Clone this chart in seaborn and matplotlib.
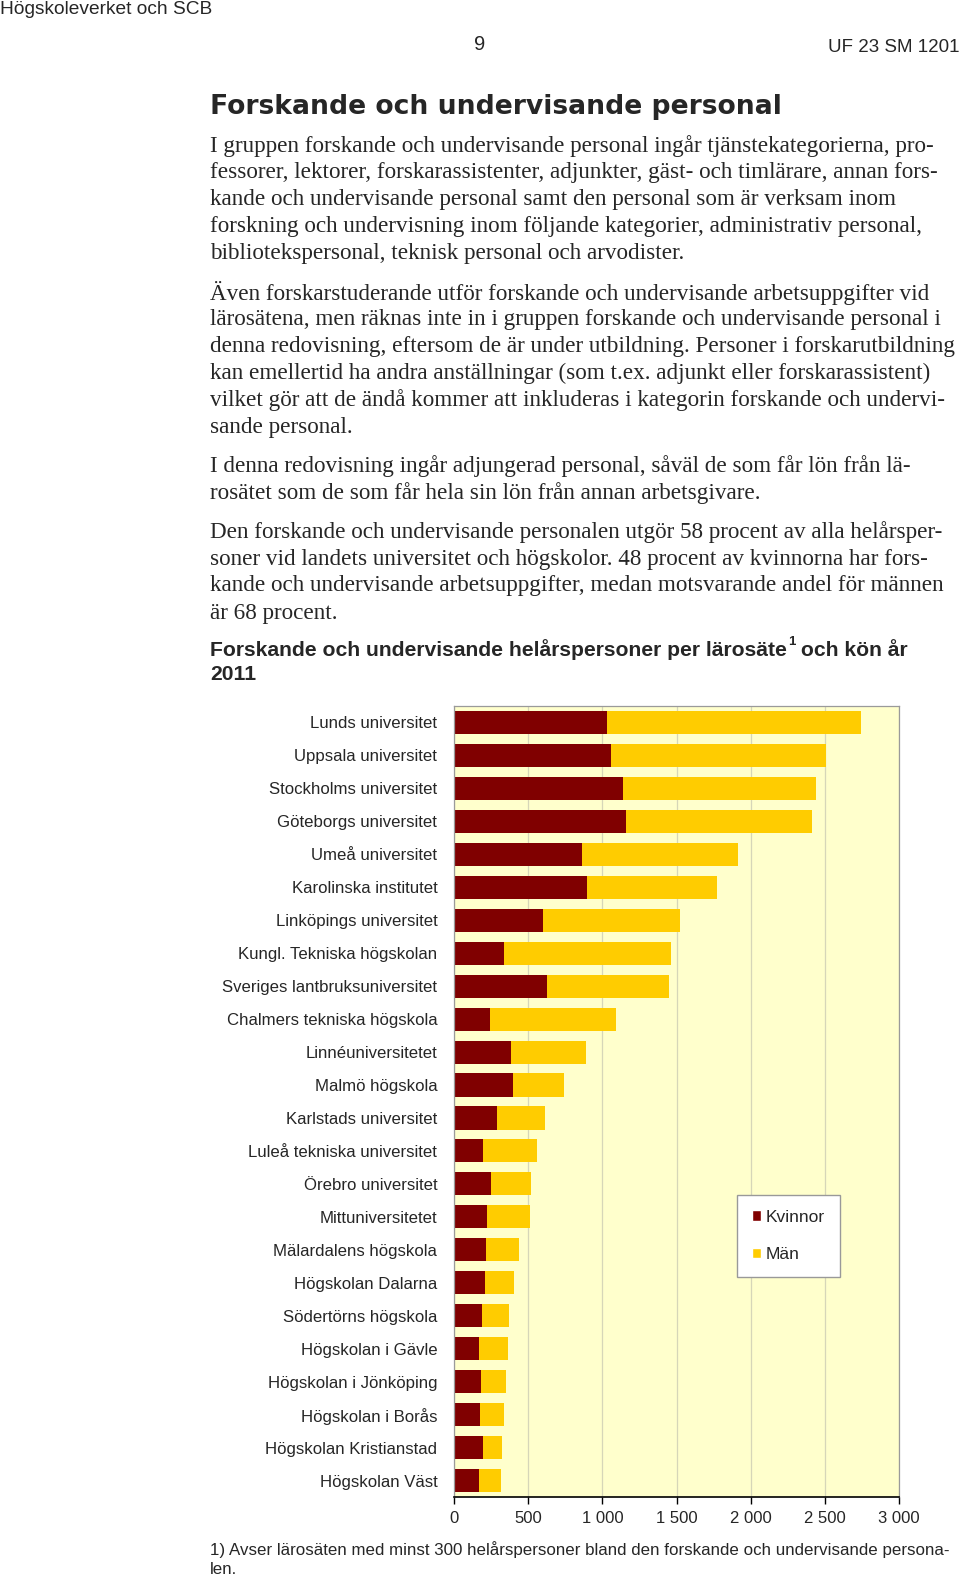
import numpy as np
import pandas as pd
import matplotlib
matplotlib.use("Agg")
import matplotlib.pyplot as plt
from matplotlib.patches import Patch
import seaborn as sns

# Data (helårspersoner 2011)
larosaten = [
    'Lunds universitet', 'Uppsala universitet', 'Stockholms universitet',
    'Göteborgs universitet', 'Umeå universitet', 'Karolinska institutet',
    'Linköpings universitet', 'Kungl. Tekniska högskolan',
    'Sveriges lantbruksuniversitet', 'Chalmers tekniska högskola',
    'Linnéuniversitetet', 'Malmö högskola', 'Karlstads universitet',
    'Luleå tekniska universitet', 'Örebro universitet', 'Mittuniversitetet',
    'Mälardalens högskola', 'Högskolan Dalarna', 'Södertörns högskola',
    'Högskolan i Gävle', 'Högskolan i Jönköping', 'Högskolan i Borås',
    'Högskolan Kristianstad', 'Högskolan Väst',
]
kvinnor = [1029, 1058, 1142, 1162, 861, 899, 598, 339, 627, 240, 384, 400,
           292, 198, 247, 225, 216, 211, 187, 171, 182, 175, 193, 169]
man = [1713, 1448, 1301, 1249, 1051, 876, 928, 1124, 820, 850, 504, 339,
       321, 359, 274, 287, 222, 196, 184, 191, 171, 164, 128, 146]
xticks = [0, 500, 1000, 1500, 2000, 2500, 3000]
xtick_labels = ['0', '500', '1 000', '1 500', '2 000', '2 500', '3 000']

header_left = 'Högskoleverket och SCB'
page_no = '9'
header_right = 'UF 23 SM 1201'
rubrik = 'Forskande och undervisande personal'

stycken = [
    [
        'I gruppen forskande och undervisande personal ingår tjänstekategorierna, pro-',
        'fessorer, lektorer, forskarassistenter, adjunkter, gäst- och timlärare, annan fors-',
        'kande och undervisande personal samt den personal som är verksam inom',
        'forskning och undervisning inom följande kategorier, administrativ personal,',
        'bibliotekspersonal, teknisk personal och arvodister.',
    ],
    [
        'Även forskarstuderande utför forskande och undervisande arbetsuppgifter vid',
        'lärosätena, men räknas inte in i gruppen forskande och undervisande personal i',
        'denna redovisning, eftersom de är under utbildning. Personer i forskarutbildning',
        'kan emellertid ha andra anställningar (som t.ex. adjunkt eller forskarassistent)',
        'vilket gör att de ändå kommer att inkluderas i kategorin forskande och undervi-',
        'sande personal.',
    ],
    [
        'I denna redovisning ingår adjungerad personal, såväl de som får lön från lä-',
        'rosätet som de som får hela sin lön från annan arbetsgivare.',
    ],
    [
        'Den forskande och undervisande personalen utgör 58 procent av alla helårsper-',
        'soner vid landets universitet och högskolor. 48 procent av kvinnorna har fors-',
        'kande och undervisande arbetsuppgifter, medan motsvarande andel för männen',
        'är 68 procent.',
    ],
]
stycke_y = [
    [146.0, 172.5, 199.5, 226.5, 253.0],
    [293.0, 319.5, 346.5, 373.5, 400.0, 427.0],
    [466.0, 493.0],
    [532.5, 559.0, 586.0, 613.0],
]

diagram_titel = 'Forskande och undervisande helårspersoner per lärosäte'
diagram_titel_slut = ' och kön år'
diagram_titel_rad2 = '2011'
fotnot = [
    '1) Avser lärosäten med minst 300 helårspersoner bland den forskande och undervisande persona-',
    'len.',
]

KVINNOR_FARG = '#800000'
MAN_FARG = '#FFCC00'

sns.set_style('white')
plt.rcParams['font.family'] = ['Liberation Sans', 'DejaVu Sans']

W, H = 960, 1578
fig = plt.figure(figsize=(W / 100, H / 100), dpi=100)


def fy(y):
    return 1 - y / H


def fx(x):
    return x / W


# Page header
fig.text(fx(0), fy(10), header_left, fontsize=13.8, va='center', ha='left')
fig.text(fx(480), fy(45), page_no, fontsize=14.5, va='center', ha='center')
fig.text(fx(960), fy(47), header_right, fontsize=13.5, va='center', ha='right')

fig.text(fx(210), fy(107), rubrik, fontsize=19.2, fontweight='bold',
         family='DejaVu Sans', va='center', ha='left')

for rader, ys in zip(stycken, stycke_y):
    for rad, y in zip(rader, ys):
        fig.text(fx(210), fy(y), rad, fontsize=16.7, family='Liberation Serif',
                 va='center', ha='left')

# Chart title with superscript 1
t1 = fig.text(fx(210), fy(650), diagram_titel, fontsize=15.2, fontweight='bold',
              va='center', ha='left')
fig.canvas.draw()
bb = t1.get_window_extent(fig.canvas.get_renderer())
sup = fig.text(bb.x1 / W + 0.001, fy(642), '1', fontsize=9.5, fontweight='bold',
               va='center', ha='left')
fig.canvas.draw()
bb2 = sup.get_window_extent(fig.canvas.get_renderer())
fig.text(bb2.x1 / W, fy(650), diagram_titel_slut, fontsize=15.2, fontweight='bold',
         va='center', ha='left')
fig.text(fx(210), fy(675), diagram_titel_rad2, fontsize=15.2, fontweight='bold',
         va='center', ha='left')

# Stacked horizontal bars
df = pd.DataFrame({'Lärosäte': larosaten, 'Kvinnor': kvinnor, 'Män': man})
df['Totalt'] = df['Kvinnor'] + df['Män']

ax = fig.add_axes([fx(454), fy(1497), 445 / W, 791 / H])
ax.set_facecolor('#FFFFCC')
sns.barplot(data=df, x='Totalt', y='Lärosäte', color=MAN_FARG, saturation=1,
            width=0.7, linewidth=0, ax=ax)
sns.barplot(data=df, x='Kvinnor', y='Lärosäte', color=KVINNOR_FARG, saturation=1,
            width=0.7, linewidth=0, ax=ax)

ax.set_xlim(0, 3000)
ax.set_ylim(len(larosaten) - 0.5, -0.5)
ax.set_xticks(xticks)
ax.set_xticklabels(xtick_labels)
ax.set_xlabel('')
ax.set_ylabel('')
ax.set_axisbelow(True)
ax.xaxis.grid(True, color='#d6d6b8', linewidth=0.9)
ax.yaxis.grid(False)

for side in ['top', 'right', 'left']:
    ax.spines[side].set_color('#9a9a9a')
    ax.spines[side].set_linewidth(0.9)
ax.spines['bottom'].set_color('black')
ax.spines['bottom'].set_linewidth(1.2)

ax.tick_params(axis='x', direction='out', length=5, width=1, color='black',
               pad=5, labelsize=12, bottom=True)
ax.tick_params(axis='y', length=0, pad=12, labelsize=12.1)

ax.legend(handles=[Patch(facecolor=KVINNOR_FARG, label='Kvinnor'),
                   Patch(facecolor=MAN_FARG, label='Män')],
          loc='upper left', bbox_to_anchor=(0.636, 0.382), frameon=True,
          fancybox=False, edgecolor='#999999', framealpha=1, fontsize=12.5,
          handlelength=0.55, handleheight=0.55, handletextpad=0.25,
          labelspacing=1.3, borderpad=0.85, borderaxespad=0)

fig.text(fx(210), fy(1550), fotnot[0], fontsize=12.2, va='center', ha='left')
fig.text(fx(210), fy(1569), fotnot[1], fontsize=12.2, va='center', ha='left')

fig.savefig('out.png', dpi=100, facecolor='white')
